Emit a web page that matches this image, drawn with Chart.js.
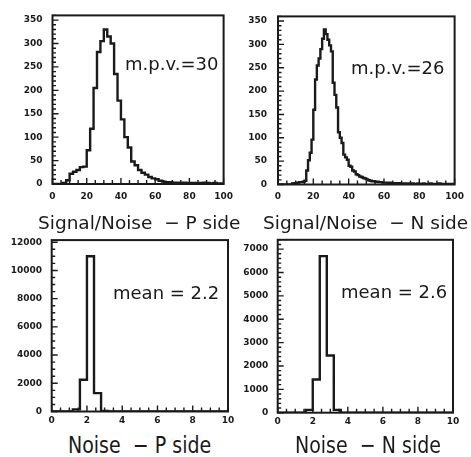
<!DOCTYPE html>
<html><head><meta charset="utf-8">
<script src="https://cdn.jsdelivr.net/npm/chart.js@4/dist/chart.umd.min.js"></script>
<style>
html,body{margin:0;padding:0;background:#fff;width:471px;height:457px;overflow:hidden;}
.c{position:absolute;}
.t{position:absolute;font-family:'DejaVu Sans';color:#1a1a1a;white-space:pre;line-height:1;}
.big{font-size:18.5px;}
.ann{font-size:18px;}
.tall{font-size:19px;transform-origin:0 16px;transform:scaleY(1.22);}
</style></head><body>
<div class="c" style="left:0;top:0;width:240px;height:205px"><canvas id="c1"></canvas></div>
<div class="c" style="left:235px;top:0;width:236px;height:205px"><canvas id="c2"></canvas></div>
<div class="c" style="left:0;top:225px;width:240px;height:205px"><canvas id="c3"></canvas></div>
<div class="c" style="left:235px;top:225px;width:236px;height:205px"><canvas id="c4"></canvas></div>

<div class="t ann" style="left:125px;top:55px">m.p.v.=30</div>
<div class="t ann" style="left:351px;top:59px">m.p.v.=26</div>
<div class="t ann" style="left:113px;top:284px">mean = 2.2</div>
<div class="t ann" style="left:341px;top:283px">mean = 2.6</div>
<div class="t big" style="left:38px;top:214px">Signal/Noise  − P side</div>
<div class="t big" style="left:263px;top:214px">Signal/Noise  − N side</div>
<div class="t tall" style="left:68px;top:437px">Noise  − P side</div>
<div class="t tall" style="left:295px;top:437px">Noise  − N side</div>

<script>
// ---- data ----
// Signal/Noise, P side: bins of width 2 from 0 to 100
const snPStart = 0, snPWidth = 2;
const snPCounts = [0,0,0,2,8, 22,26,30,36,37, 72,118,205,282,305, 330,315,300,235,178,
  138,100,78,48,40, 30,24,20,15,12, 10,7,5,4,4, 3,3,2,3,2, 2,2,1,2,3, 2,1,2,1,1];
// Signal/Noise, N side: bins of width 1 from 0 to 100
const snNStart = 0, snNWidth = 1;
const snNCounts = [0,0,0,0,0,0,0,0, 2,3,3,4,5,5,6,8,
  30,52,68,96, 160,225,255,270,290,312,332,322,310,298,
  285,218,192,165,112,100,89,64,58,53, 40,38,30,28,22,20,17,16,14,13,
  11,9,8,7,7,6,6,5,5,4, 4,4,3,4,3,3,3,2,3,2,
  2,2,1,2,2,1,2,1,1,2, 1,1,2,1,1,1,2,1,1,1, 1,2,1,1,1,1,1,1,1,1];
// Noise, P side: bins of width 0.4 from 0 to 10
const nzPStart = 0, nzPWidth = 0.4;
const nzPCounts = [0,0,0,150,2250,11000,1300,40,0,0,0,0,0,0,0,0,0,0,0,0,0,0,0,0,0];
// Noise, N side: bins of width 0.4 from 0 to 10
const nzNStart = 0, nzNWidth = 0.4;
const nzNCounts = [0,0,0,0,120,1420,6700,2450,120,0,0,0,0,0,0,0,0,0,0,0,0,0,0,0,0];

// tick labels
const snXTicks = [0,20,40,60,80,100];
const snYTicks = [0,50,100,150,200,250,300,350];
const nzXTicks = [0,2,4,6,8,10];
const nzPYTicks = [0,2000,4000,6000,8000,10000,12000];
const nzNYTicks = [0,1000,2000,3000,4000,5000,6000,7000];

// ---- drawing ----
function histPoints(start, width, counts){
  const pts = counts.map((c,i)=>({x:start+i*width, y:c}));
  pts.push({x:start+counts.length*width, y:counts[counts.length-1]});
  return pts;
}

const INK = '#1a1a1a';
const framePlugin = {
  id:'frame',
  afterDatasetsDraw(chart, args, o){
    const {ctx, chartArea:a} = chart;
    const x = chart.scales.x, y = chart.scales.y;
    ctx.save();
    ctx.strokeStyle = INK;
    ctx.lineWidth = 1.4;
    ctx.beginPath();
    const nx = Math.round((x.max - x.min)/o.xMinor);
    for(let i=0;i<=nx;i++){
      const v = x.min + i*o.xMinor;
      const major = o.xMajor.some(m=>Math.abs(m-v)<1e-6);
      const px = x.getPixelForValue(v);
      ctx.moveTo(px, a.bottom); ctx.lineTo(px, a.bottom-(major?6:4));
    }
    const ny = Math.floor(y.max/o.yMinor);
    for(let i=0;i<=ny;i++){
      const v = i*o.yMinor;
      const major = o.yMajor.some(m=>Math.abs(m-v)<1e-6);
      const py = y.getPixelForValue(v);
      ctx.moveTo(a.left, py); ctx.lineTo(a.left+(major?6:3.5), py);
    }
    ctx.stroke();
    ctx.lineWidth = 2;
    ctx.strokeRect(a.left, a.top, a.right-a.left, a.bottom-a.top);
    ctx.restore();
  }
};

function makeChart(id, cfg){
  new Chart(document.getElementById(id), {
    type:'line',
    data:{datasets:[{
      data: histPoints(cfg.start, cfg.width, cfg.counts),
      stepped:'before', borderColor:INK, borderWidth:2.4, pointRadius:0, fill:false
    }]},
    options:{
      responsive:true, maintainAspectRatio:false, animation:false,
      layout:{padding:{top:cfg.padTop, right:cfg.padRight, left:0, bottom:0}},
      plugins:{legend:{display:false}, tooltip:{enabled:false},
        frame:{xMinor:cfg.xMinor, yMinor:cfg.yMinor, xMajor:cfg.xTicks, yMajor:cfg.yTicks}},
      scales:{
        x:{type:'linear', min:cfg.xMin, max:cfg.xMax,
          grid:{display:false, drawTicks:false}, border:{display:false},
          afterBuildTicks:s=>{s.ticks = cfg.xTicks.map(v=>({value:v}));},
          afterFit:s=>{s.height = cfg.xH;},
          ticks:{padding:cfg.xPad, color:INK, maxRotation:0, autoSkip:false,
            callback:v=>String(v),
            font:{family:'DejaVu Sans', size:9, weight:'bold'}}},
        y:{type:'linear', min:0, max:cfg.yMax,
          grid:{display:false, drawTicks:false}, border:{display:false},
          afterBuildTicks:s=>{s.ticks = cfg.yTicks.map(v=>({value:v}));},
          afterFit:s=>{s.width = cfg.yW;},
          ticks:{padding:cfg.yPad, color:INK, autoSkip:false,
            callback:v=>String(v),
            font:{family:'DejaVu Sans', size:9, weight:'bold'}}}
      }
    },
    plugins:[framePlugin]
  });
}

makeChart('c1', {start:snPStart, width:snPWidth, counts:snPCounts,
  xMin:0, xMax:100, yMax:360, xTicks:snXTicks, yTicks:snYTicks, xMinor:5, yMinor:10,
  padTop:12, padRight:10.5, xH:21, yW:52.5, xPad:7, yPad:10});
makeChart('c2', {start:snNStart, width:snNWidth, counts:snNCounts,
  xMin:0, xMax:100, yMax:360, xTicks:snXTicks, yTicks:snYTicks, xMinor:5, yMinor:10,
  padTop:14, padRight:14.5, xH:20.5, yW:43, xPad:7, yPad:11});
makeChart('c3', {start:nzPStart, width:nzPWidth, counts:nzPCounts,
  xMin:0, xMax:10, yMax:12150, xTicks:nzXTicks, yTicks:nzPYTicks, xMinor:0.5, yMinor:500,
  padTop:11, padRight:12, xH:18.5, yW:51.7, xPad:3.5, yPad:9.7});
makeChart('c4', {start:nzNStart, width:nzNWidth, counts:nzNCounts,
  xMin:0, xMax:10, yMax:7400, xTicks:nzXTicks, yTicks:nzNYTicks, xMinor:0.5, yMinor:200,
  padTop:14, padRight:18, xH:17.3, yW:42.7, xPad:3.5, yPad:9.4});
</script>
</body></html>
